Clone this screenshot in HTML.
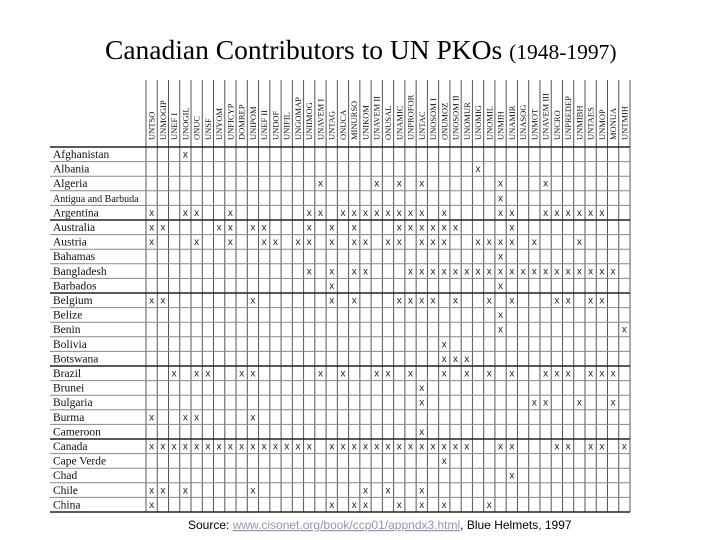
<!DOCTYPE html>
<html><head><meta charset="utf-8"><style>
html,body{margin:0;padding:0;background:#fff;width:720px;height:540px;overflow:hidden}
</style></head><body>
<svg id="chart" width="720" height="540" xmlns="http://www.w3.org/2000/svg">
<text x="105" y="59" font-family="Liberation Serif, serif" font-size="27.5" fill="#000">Canadian Contributors to UN PKOs <tspan font-size="21.5">(1948-1997)</tspan></text>
<text x="188" y="529" font-family="Liberation Sans, sans-serif" font-size="12" fill="#000">Source: <tspan fill="#8a9ab0" text-decoration="underline">www.cisonet.org/book/ccp01/appndx3.html</tspan>, Blue Helmets, 1997</text>
<g id="grid"></g><g id="labels"></g><g id="marks"></g>
</svg>
<script>
const missions = ["UNTSO","UNMOGIP","UNEF I","UNOGIL","ONUC","UNSF","UNYOM","UNFICYP","DOMREP","UNIPOM","UNEF II","UNDOF","UNIFIL","UNGOMAP","UNIIMOG","UNAVEM I","UNTAG","ONUCA","MINURSO","UNIKOM","UNAVEM II","ONUSAL","UNAMIC","UNPROFOR","UNTAC","UNOSOM I","ONUMOZ","UNOSOM II","UNOMUR","UNOMIG","UNOMIL","UNMIH","UNAMIR","UNASOG","UNMOT","UNAVEM III","UNCRO","UNPREDEP","UNMIBH","UNTAES","UNMOP","MONUA","UNTMIH"];
const countries = ["Afghanistan","Albania","Algeria","Antigua and Barbuda","Argentina","Australia","Austria","Bahamas","Bangladesh","Barbados","Belgium","Belize","Benin","Bolivia","Botswana","Brazil","Brunei","Bulgaria","Burma","Cameroon","Canada","Cape Verde","Chad","Chile","China"];
const participation = [
 [3],
 [29],
 [15,20,22,24,31,35],
 [31],
 [0,3,4,7,14,15,17,18,19,20,21,22,23,24,26,31,32,35,36,37,38,39,40],
 [0,1,6,7,9,10,14,16,18,22,23,24,25,26,27,32],
 [0,4,7,10,11,13,14,16,18,19,21,22,24,25,26,29,30,31,32,34,38],
 [31],
 [14,16,18,19,23,24,25,26,27,28,29,30,31,32,33,34,35,36,37,38,39,40,41],
 [16,31],
 [0,1,9,16,18,22,23,24,25,27,30,32,36,37,39,40],
 [31],
 [31,42],
 [26],
 [26,27,28],
 [2,4,5,8,9,15,17,20,21,23,26,28,30,32,35,36,37,39,40,41],
 [24],
 [24,34,35,38,41],
 [0,3,4,9],
 [24],
 [0,1,2,3,4,5,6,7,8,9,10,11,12,13,14,16,17,18,19,20,21,22,23,24,25,26,27,28,31,32,36,37,39,40,42],
 [26],
 [32],
 [0,1,3,9,19,21,24],
 [0,16,18,19,22,24,26,30]
];
const NS="http://www.w3.org/2000/svg";
const gx0=146,gx1=630,gTop=80,gy0=147,rowH=14.6,labelX=50;
const colW=(gx1-gx0)/missions.length;
const xCol=i=>gx0+i*colW;
const yRow=r=>gy0+r*rowH;
const grid=document.getElementById('grid'),labels=document.getElementById('labels'),marks=document.getElementById('marks');
function mk(tag,attrs,parent){const e=document.createElementNS(NS,tag);for(const k in attrs)e.setAttribute(k,attrs[k]);parent.appendChild(e);return e;}
const yEnd=yRow(countries.length);
for(let i=0;i<=missions.length;i++){
 const l=mk('line',{x1:xCol(i),x2:xCol(i),y1:gTop,y2:yEnd,stroke:'#555','stroke-width':1},grid);
 
 
}
for(let r=0;r<=countries.length;r++){
 const thick=(r%5===0);
 const l=mk('line',{x1:labelX,x2:gx1,y1:yRow(r),y2:yRow(r),stroke:thick?'#222':'#888','stroke-width':thick?1.4:1},grid);
 
 
}
missions.forEach((m,i)=>{
 const cx=xCol(i)+colW/2+3;
 const t=mk('text',{x:cx,y:140,transform:`rotate(-90 ${cx} 140)`,'font-family':'Liberation Serif, serif','font-size':8.5,fill:'#111'},labels);
 t.textContent=m;
 
 
});
countries.forEach((c,r)=>{
 const t=mk('text',{x:53,y:yRow(r)+11,'font-family':'Liberation Serif, serif','font-size':c.length>15?10:11.5,fill:'#111'},labels);
 t.textContent=c;
 
 
});
participation.forEach((cols,r)=>{
 cols.forEach(ci=>{
  const t=mk('text',{x:xCol(ci)+colW/2,y:yRow(r)+10.5,'text-anchor':'middle','font-family':'Liberation Sans, sans-serif','font-size':10,fill:'#222'},marks);
  t.textContent='x';
  
  
 });
});
</script>
</body></html>
